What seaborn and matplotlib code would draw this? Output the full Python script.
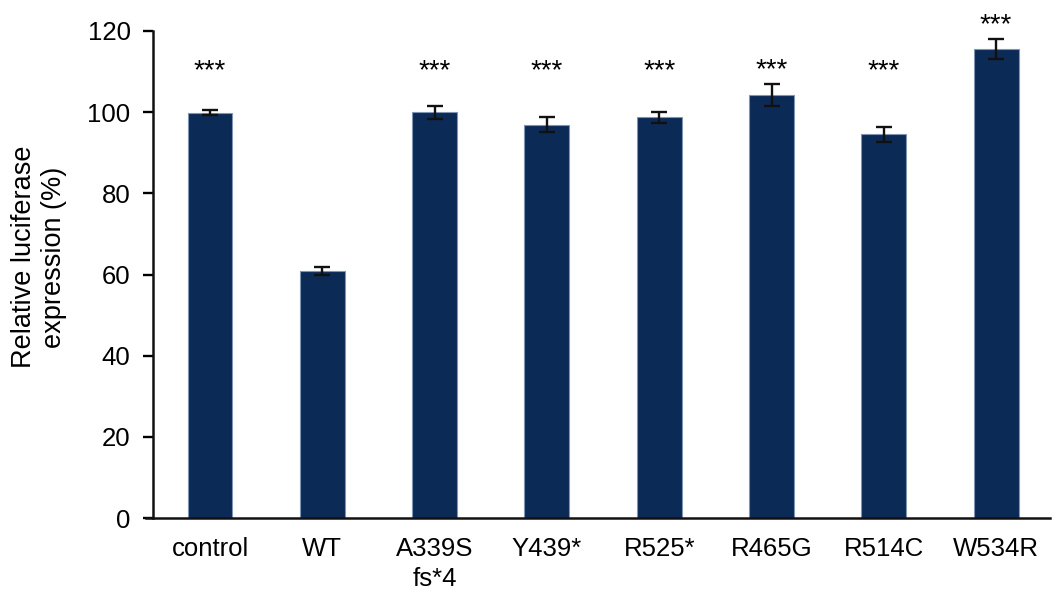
import matplotlib
matplotlib.use("Agg")
import matplotlib.pyplot as plt
import seaborn as sns
import pandas as pd
import numpy as np

# Luciferase reporter results (mean ± error, % of control)
constructs = ["control", "WT", "A339S\nfs*4", "Y439*", "R525*", "R465G", "R514C", "W534R"]
expression = [99.9, 60.9, 100.0, 96.9, 98.7, 104.2, 94.5, 115.6]
error = [0.6, 0.9, 1.6, 1.8, 1.4, 2.7, 1.9, 2.4]
significance = ["***", "", "***", "***", "***", "***", "***", "***"]
y_ticks = [0, 20, 40, 60, 80, 100, 120]

df = pd.DataFrame({"construct": constructs, "expression": expression})

sns.set_theme(style="white")
plt.rcParams["font.family"] = ["Liberation Sans", "DejaVu Sans"]

fig = plt.figure(figsize=(10.52, 5.94), dpi=100)
ax = fig.add_axes([146 / 1052, 76 / 594, 904 / 1052, 487 / 594])

bar_color = "#0b2a55"
sns.barplot(data=df, x="construct", y="expression", color=bar_color,
            saturation=1, width=0.4, errorbar=None, ax=ax,
            edgecolor="#8095b3", linewidth=0.8)

xs = np.arange(len(constructs))
ax.errorbar(xs, expression, yerr=error, fmt="none", ecolor="#111111",
            elinewidth=1.7, capsize=5.5, capthick=1.7, zorder=5)

for x, m, e, s in zip(xs, expression, error, significance):
    if s:
        y = max(108.4, m + e + 1.6)
        ax.text(x, y, s, ha="center", va="baseline", fontsize=20,
                color="black", clip_on=False)

ax.set_xlim(-0.57, 7.48)
ax.set_ylim(0, 120)
ax.set_yticks(y_ticks)
ax.set_yticklabels([str(t) for t in y_ticks])
ax.tick_params(axis="x", length=0, pad=14, labelsize=18.5, colors="black")
ax.tick_params(axis="y", length=7, width=1.7, direction="out", pad=9,
               labelsize=18.5, colors="black", left=True)
for lbl in ax.get_xticklabels():
    lbl.set_linespacing(1.3)
ax.set_xlabel("")
ax.set_ylabel("Relative luciferase\nexpression (%)", fontsize=19.5,
              color="black", va="center", ha="center",
              multialignment="center")
ax.yaxis.set_label_coords(-0.118, 0.536)

for side in ["top", "right"]:
    ax.spines[side].set_visible(False)
ax.spines["left"].set_position(("data", -0.51))
for side in ["left", "bottom"]:
    ax.spines[side].set_color("#111111")
    ax.spines[side].set_linewidth(1.8)

fig.savefig("out.png", dpi=100, facecolor="white")
